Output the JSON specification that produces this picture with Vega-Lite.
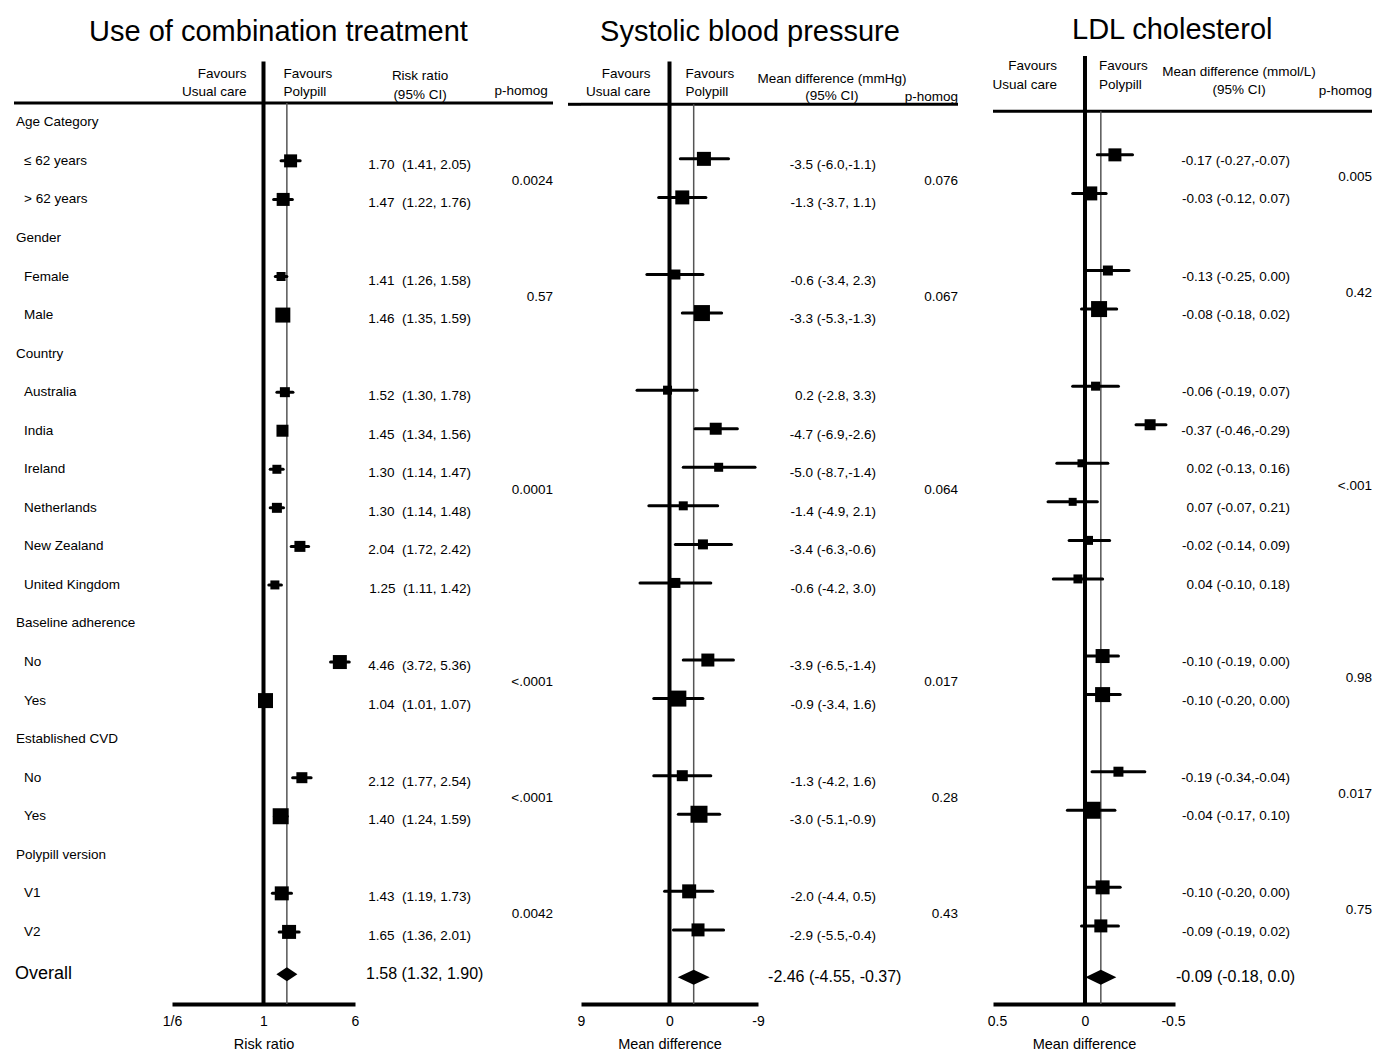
{
"$schema": "https://vega.github.io/schema/vega-lite/v6.json",
"background": "white",
"padding": {"left": 12, "top": 16, "right": 0, "bottom": 0},
"spacing": 11,
"config": {
  "view": {"stroke": null},
  "font": "Liberation Sans, Arial, sans-serif",
  "text": {"font": "Liberation Sans, Arial, sans-serif", "fontSize": 13.5, "color": "black"},
  "axis": {"grid": false, "ticks": false, "tickSize": 0, "domainWidth": 4, "domainColor": "black", "labelFlush": false, "labelPadding": 10, "labelFontSize": 14, "titleFontSize": 14.5, "titleFontWeight": "normal", "titlePadding": 9, "labelColor": "black", "titleColor": "black", "labelFont": "Liberation Sans, Arial, sans-serif", "titleFont": "Liberation Sans, Arial, sans-serif"},
  "title": {"font": "Liberation Sans, Arial, sans-serif", "fontSize": 29, "fontWeight": "normal", "color": "black", "anchor": "middle"}
},
"datasets": {
  "labels": [
    {"row": 1, "label": "Age Category", "level": 0},
    {"row": 2, "label": "≤ 62 years", "level": 1},
    {"row": 3, "label": "> 62 years", "level": 1},
    {"row": 4, "label": "Gender", "level": 0},
    {"row": 5, "label": "Female", "level": 1},
    {"row": 6, "label": "Male", "level": 1},
    {"row": 7, "label": "Country", "level": 0},
    {"row": 8, "label": "Australia", "level": 1},
    {"row": 9, "label": "India", "level": 1},
    {"row": 10, "label": "Ireland", "level": 1},
    {"row": 11, "label": "Netherlands", "level": 1},
    {"row": 12, "label": "New Zealand", "level": 1},
    {"row": 13, "label": "United Kingdom", "level": 1},
    {"row": 14, "label": "Baseline adherence", "level": 0},
    {"row": 15, "label": "No", "level": 1},
    {"row": 16, "label": "Yes", "level": 1},
    {"row": 17, "label": "Established CVD", "level": 0},
    {"row": 18, "label": "No", "level": 1},
    {"row": 19, "label": "Yes", "level": 1},
    {"row": 20, "label": "Polypill version", "level": 0},
    {"row": 21, "label": "V1", "level": 1},
    {"row": 22, "label": "V2", "level": 1},
    {"row": 23.1, "label": "Overall", "level": 0, "overall": true}
  ],
  "est": [
    {"o": "rr", "row": 2, "grp": "age", "p": "0.0024", "est": 1.70, "lo": 1.41, "hi": 2.05, "wt": 169, "txt": "1.70\u00a0 (1.41, 2.05)"},
    {"o": "rr", "row": 3, "grp": "age", "p": "0.0024", "est": 1.47, "lo": 1.22, "hi": 1.76, "wt": 169, "txt": "1.47\u00a0 (1.22, 1.76)"},
    {"o": "rr", "row": 5, "grp": "gender", "p": "0.57", "est": 1.41, "lo": 1.26, "hi": 1.58, "wt": 81, "txt": "1.41\u00a0 (1.26, 1.58)"},
    {"o": "rr", "row": 6, "grp": "gender", "p": "0.57", "est": 1.46, "lo": 1.35, "hi": 1.59, "wt": 225, "txt": "1.46\u00a0 (1.35, 1.59)"},
    {"o": "rr", "row": 8, "grp": "country", "p": "0.0001", "est": 1.52, "lo": 1.30, "hi": 1.78, "wt": 100, "txt": "1.52\u00a0 (1.30, 1.78)"},
    {"o": "rr", "row": 9, "grp": "country", "p": "0.0001", "est": 1.45, "lo": 1.34, "hi": 1.56, "wt": 144, "txt": "1.45\u00a0 (1.34, 1.56)"},
    {"o": "rr", "row": 10, "grp": "country", "p": "0.0001", "est": 1.30, "lo": 1.14, "hi": 1.47, "wt": 81, "txt": "1.30\u00a0 (1.14, 1.47)"},
    {"o": "rr", "row": 11, "grp": "country", "p": "0.0001", "est": 1.30, "lo": 1.14, "hi": 1.48, "wt": 100, "txt": "1.30\u00a0 (1.14, 1.48)"},
    {"o": "rr", "row": 12, "grp": "country", "p": "0.0001", "est": 2.04, "lo": 1.72, "hi": 2.42, "wt": 121, "txt": "2.04\u00a0 (1.72, 2.42)"},
    {"o": "rr", "row": 13, "grp": "country", "p": "0.0001", "est": 1.25, "lo": 1.11, "hi": 1.42, "wt": 81, "txt": "1.25\u00a0 (1.11, 1.42)"},
    {"o": "rr", "row": 15, "grp": "adh", "p": "<.0001", "est": 4.46, "lo": 3.72, "hi": 5.36, "wt": 196, "txt": "4.46\u00a0 (3.72, 5.36)"},
    {"o": "rr", "row": 16, "grp": "adh", "p": "<.0001", "est": 1.04, "lo": 1.01, "hi": 1.07, "wt": 225, "txt": "1.04\u00a0 (1.01, 1.07)"},
    {"o": "rr", "row": 18, "grp": "cvd", "p": "<.0001", "est": 2.12, "lo": 1.77, "hi": 2.54, "wt": 121, "txt": "2.12\u00a0 (1.77, 2.54)"},
    {"o": "rr", "row": 19, "grp": "cvd", "p": "<.0001", "est": 1.40, "lo": 1.24, "hi": 1.59, "wt": 256, "txt": "1.40\u00a0 (1.24, 1.59)"},
    {"o": "rr", "row": 21, "grp": "ver", "p": "0.0042", "est": 1.43, "lo": 1.19, "hi": 1.73, "wt": 196, "txt": "1.43\u00a0 (1.19, 1.73)"},
    {"o": "rr", "row": 22, "grp": "ver", "p": "0.0042", "est": 1.65, "lo": 1.36, "hi": 2.01, "wt": 196, "txt": "1.65\u00a0 (1.36, 2.01)"},
    {"o": "rr", "row": 23.1, "grp": "overall", "est": 1.58, "lo": 1.32, "hi": 1.90, "txt": "1.58 (1.32, 1.90)", "overall": true},

    {"o": "sbp", "row": 2, "grp": "age", "p": "0.076", "est": -3.5, "lo": -6.0, "hi": -1.1, "wt": 196, "txt": "-3.5 (-6.0,-1.1)"},
    {"o": "sbp", "row": 3, "grp": "age", "p": "0.076", "est": -1.3, "lo": -3.7, "hi": 1.1, "wt": 196, "txt": "-1.3 (-3.7, 1.1)"},
    {"o": "sbp", "row": 5, "grp": "gender", "p": "0.067", "est": -0.6, "lo": -3.4, "hi": 2.3, "wt": 100, "txt": "-0.6 (-3.4, 2.3)"},
    {"o": "sbp", "row": 6, "grp": "gender", "p": "0.067", "est": -3.3, "lo": -5.3, "hi": -1.3, "wt": 256, "txt": "-3.3 (-5.3,-1.3)"},
    {"o": "sbp", "row": 8, "grp": "country", "p": "0.064", "est": 0.2, "lo": -2.8, "hi": 3.3, "wt": 81, "txt": "0.2 (-2.8, 3.3)"},
    {"o": "sbp", "row": 9, "grp": "country", "p": "0.064", "est": -4.7, "lo": -6.9, "hi": -2.6, "wt": 144, "txt": "-4.7 (-6.9,-2.6)"},
    {"o": "sbp", "row": 10, "grp": "country", "p": "0.064", "est": -5.0, "lo": -8.7, "hi": -1.4, "wt": 81, "txt": "-5.0 (-8.7,-1.4)"},
    {"o": "sbp", "row": 11, "grp": "country", "p": "0.064", "est": -1.4, "lo": -4.9, "hi": 2.1, "wt": 81, "txt": "-1.4 (-4.9, 2.1)"},
    {"o": "sbp", "row": 12, "grp": "country", "p": "0.064", "est": -3.4, "lo": -6.3, "hi": -0.6, "wt": 100, "txt": "-3.4 (-6.3,-0.6)"},
    {"o": "sbp", "row": 13, "grp": "country", "p": "0.064", "est": -0.6, "lo": -4.2, "hi": 3.0, "wt": 100, "txt": "-0.6 (-4.2, 3.0)"},
    {"o": "sbp", "row": 15, "grp": "adh", "p": "0.017", "est": -3.9, "lo": -6.5, "hi": -1.4, "wt": 169, "txt": "-3.9 (-6.5,-1.4)"},
    {"o": "sbp", "row": 16, "grp": "adh", "p": "0.017", "est": -0.9, "lo": -3.4, "hi": 1.6, "wt": 256, "txt": "-0.9 (-3.4, 1.6)"},
    {"o": "sbp", "row": 18, "grp": "cvd", "p": "0.28", "est": -1.3, "lo": -4.2, "hi": 1.6, "wt": 121, "txt": "-1.3 (-4.2, 1.6)"},
    {"o": "sbp", "row": 19, "grp": "cvd", "p": "0.28", "est": -3.0, "lo": -5.1, "hi": -0.9, "wt": 289, "txt": "-3.0 (-5.1,-0.9)"},
    {"o": "sbp", "row": 21, "grp": "ver", "p": "0.43", "est": -2.0, "lo": -4.4, "hi": 0.5, "wt": 196, "txt": "-2.0 (-4.4, 0.5)"},
    {"o": "sbp", "row": 22, "grp": "ver", "p": "0.43", "est": -2.9, "lo": -5.5, "hi": -0.4, "wt": 169, "txt": "-2.9 (-5.5,-0.4)"},
    {"o": "sbp", "row": 23.1, "grp": "overall", "est": -2.46, "lo": -4.55, "hi": -0.37, "txt": "-2.46 (-4.55, -0.37)", "overall": true},

    {"o": "ldl", "row": 2, "grp": "age", "p": "0.005", "est": -0.17, "lo": -0.27, "hi": -0.07, "wt": 169, "txt": "-0.17 (-0.27,-0.07)"},
    {"o": "ldl", "row": 3, "grp": "age", "p": "0.005", "est": -0.03, "lo": -0.12, "hi": 0.07, "wt": 196, "txt": "-0.03 (-0.12, 0.07)"},
    {"o": "ldl", "row": 5, "grp": "gender", "p": "0.42", "est": -0.13, "lo": -0.25, "hi": 0.00, "wt": 100, "txt": "-0.13 (-0.25, 0.00)"},
    {"o": "ldl", "row": 6, "grp": "gender", "p": "0.42", "est": -0.08, "lo": -0.18, "hi": 0.02, "wt": 256, "txt": "-0.08 (-0.18, 0.02)"},
    {"o": "ldl", "row": 8, "grp": "country", "p": "<.001", "est": -0.06, "lo": -0.19, "hi": 0.07, "wt": 81, "txt": "-0.06 (-0.19, 0.07)"},
    {"o": "ldl", "row": 9, "grp": "country", "p": "<.001", "est": -0.37, "lo": -0.46, "hi": -0.29, "wt": 121, "txt": "-0.37 (-0.46,-0.29)"},
    {"o": "ldl", "row": 10, "grp": "country", "p": "<.001", "est": 0.02, "lo": -0.13, "hi": 0.16, "wt": 64, "txt": "0.02 (-0.13, 0.16)"},
    {"o": "ldl", "row": 11, "grp": "country", "p": "<.001", "est": 0.07, "lo": -0.07, "hi": 0.21, "wt": 64, "txt": "0.07 (-0.07, 0.21)"},
    {"o": "ldl", "row": 12, "grp": "country", "p": "<.001", "est": -0.02, "lo": -0.14, "hi": 0.09, "wt": 81, "txt": "-0.02 (-0.14, 0.09)"},
    {"o": "ldl", "row": 13, "grp": "country", "p": "<.001", "est": 0.04, "lo": -0.10, "hi": 0.18, "wt": 81, "txt": "0.04 (-0.10, 0.18)"},
    {"o": "ldl", "row": 15, "grp": "adh", "p": "0.98", "est": -0.10, "lo": -0.19, "hi": 0.00, "wt": 196, "txt": "-0.10 (-0.19, 0.00)"},
    {"o": "ldl", "row": 16, "grp": "adh", "p": "0.98", "est": -0.10, "lo": -0.20, "hi": 0.00, "wt": 225, "txt": "-0.10 (-0.20, 0.00)"},
    {"o": "ldl", "row": 18, "grp": "cvd", "p": "0.017", "est": -0.19, "lo": -0.34, "hi": -0.04, "wt": 100, "txt": "-0.19 (-0.34,-0.04)"},
    {"o": "ldl", "row": 19, "grp": "cvd", "p": "0.017", "est": -0.04, "lo": -0.17, "hi": 0.10, "wt": 289, "txt": "-0.04 (-0.17, 0.10)"},
    {"o": "ldl", "row": 21, "grp": "ver", "p": "0.75", "est": -0.10, "lo": -0.20, "hi": 0.00, "wt": 196, "txt": "-0.10 (-0.20, 0.00)"},
    {"o": "ldl", "row": 22, "grp": "ver", "p": "0.75", "est": -0.09, "lo": -0.19, "hi": 0.02, "wt": 169, "txt": "-0.09 (-0.19, 0.02)"},
    {"o": "ldl", "row": 23.1, "grp": "overall", "est": -0.09, "lo": -0.18, "hi": 0.0, "txt": "-0.09 (-0.18, 0.0)", "overall": true}
  ]
},
"hconcat": [
  {
    "title": {"text": "Use of combination treatment", "dx": -5, "offset": 9},
    "spacing": 0,
    "bounds": "flush",
    "hconcat": [
      {
        "width": 158, "height": 948,
        "data": {"name": "labels"},
        "layer": [
          {"data": {"values": [{}]}, "mark": {"type": "rule", "strokeWidth": 3, "color": "black"},
           "encoding": {"y": {"datum": 0.5, "type": "quantitative", "scale": {"domain": [-0.72, 23.87], "reverse": true, "nice": false, "zero": false}, "axis": null}}},
          {"transform": [{"filter": "!datum.overall"}],
           "mark": {"type": "text", "align": "left", "baseline": "middle"},
           "encoding": {
             "x": {"field": "level", "type": "ordinal", "scale": {"type": "point", "range": [2, 10], "padding": 0}, "axis": null},
             "y": {"field": "row", "type": "quantitative", "scale": {"domain": [-0.72, 23.87], "reverse": true, "nice": false, "zero": false}, "axis": null},
             "text": {"field": "label"}}},
          {"transform": [{"filter": "datum.overall"}],
           "mark": {"type": "text", "align": "left", "baseline": "middle", "fontSize": 18, "dx": -1},
           "encoding": {
             "x": {"field": "level", "type": "ordinal", "scale": {"type": "point", "range": [2, 10], "padding": 0}, "axis": null},
             "y": {"field": "row", "type": "quantitative", "scale": {"domain": [-0.72, 23.87], "reverse": true, "nice": false, "zero": false}, "axis": null},
             "text": {"field": "label"}}}
        ]
      },
      {
        "width": 183, "height": 948,
        "data": {"name": "est"},
        "layer": [
          {"data": {"values": [{}]}, "mark": {"type": "rule", "strokeWidth": 3, "color": "black"},
           "encoding": {"y": {"datum": 0.5, "type": "quantitative", "scale": {"domain": [-0.72, 23.87], "reverse": true, "nice": false, "zero": false}, "axis": null}}},
          {"data": {"values": [{}]}, "mark": {"type": "rule", "strokeWidth": 4, "color": "black"},
           "encoding": {
             "x": {"datum": 1, "type": "quantitative", "scale": {"type": "log", "domain": [0.16666666666666666, 6], "nice": false},
                   "axis": {"values": [0.16666666666666666, 1, 6], "labelExpr": "datum.value < 0.5 ? '1/6' : (datum.value < 2 ? '1' : '6')", "title": "Risk ratio"}},
             "y": {"datum": -0.58, "type": "quantitative", "scale": {"domain": [-0.72, 23.87], "reverse": true, "nice": false, "zero": false}, "axis": null},
             "y2": {"datum": 23.87}}},
          {"transform": [{"filter": "datum.o == 'rr' && datum.overall"}],
           "mark": {"type": "rule", "strokeWidth": 1.5, "color": "#555555"},
           "encoding": {
             "x": {"field": "est", "type": "quantitative", "scale": {"type": "log", "domain": [0.16666666666666666, 6], "nice": false}},
             "y": {"datum": 0.5, "type": "quantitative", "scale": {"domain": [-0.72, 23.87], "reverse": true, "nice": false, "zero": false}, "axis": null},
             "y2": {"datum": 23.87}}},
          {"transform": [{"filter": "datum.o == 'rr' && !datum.overall"}],
           "mark": {"type": "rule", "strokeWidth": 3, "strokeCap": "round", "color": "black"},
           "encoding": {
             "x": {"field": "lo", "type": "quantitative", "scale": {"type": "log", "domain": [0.16666666666666666, 6], "nice": false}},
             "x2": {"field": "hi"},
             "y": {"field": "row", "type": "quantitative", "scale": {"domain": [-0.72, 23.87], "reverse": true, "nice": false, "zero": false}, "axis": null}}},
          {"transform": [{"filter": "datum.o == 'rr' && !datum.overall"}],
           "mark": {"type": "point", "shape": "square", "filled": true, "color": "black", "opacity": 1, "strokeWidth": 0},
           "encoding": {
             "x": {"field": "est", "type": "quantitative", "scale": {"type": "log", "domain": [0.16666666666666666, 6], "nice": false}},
             "y": {"field": "row", "type": "quantitative", "scale": {"domain": [-0.72, 23.87], "reverse": true, "nice": false, "zero": false}, "axis": null},
             "size": {"field": "wt", "type": "quantitative", "scale": {"domain": [0, 300], "range": [0, 300]}, "legend": null}}},
          {"transform": [{"filter": "datum.o == 'rr' && datum.overall"}],
           "mark": {"type": "point", "shape": "M-1,0L0,-0.667L1,0L0,0.667Z", "size": 441, "filled": true, "color": "black", "opacity": 1, "strokeWidth": 0},
           "encoding": {
             "x": {"field": "est", "type": "quantitative", "scale": {"type": "log", "domain": [0.16666666666666666, 6], "nice": false}},
             "y": {"field": "row", "type": "quantitative", "scale": {"domain": [-0.72, 23.87], "reverse": true, "nice": false, "zero": false}, "axis": null}}},
          {"data": {"values": [{}]},
           "mark": {"type": "text", "align": "right", "baseline": "middle", "lineBreak": "\n", "lineHeight": 18, "dx": -17},
           "encoding": {
             "x": {"datum": 1, "type": "quantitative", "scale": {"type": "log", "domain": [0.16666666666666666, 6], "nice": false}},
             "y": {"datum": -0.253, "type": "quantitative", "scale": {"domain": [-0.72, 23.87], "reverse": true, "nice": false, "zero": false}, "axis": null},
             "text": {"value": "Favours\nUsual care"}}},
          {"data": {"values": [{}]},
           "mark": {"type": "text", "align": "left", "baseline": "middle", "lineBreak": "\n", "lineHeight": 18, "dx": 20},
           "encoding": {
             "x": {"datum": 1, "type": "quantitative", "scale": {"type": "log", "domain": [0.16666666666666666, 6], "nice": false}},
             "y": {"datum": -0.253, "type": "quantitative", "scale": {"domain": [-0.72, 23.87], "reverse": true, "nice": false, "zero": false}, "axis": null},
             "text": {"value": "Favours\nPolypill"}}}
        ]
      },
      {
        "width": 125, "height": 948,
        "data": {"name": "est"},
        "layer": [
          {"data": {"values": [{}]}, "mark": {"type": "rule", "strokeWidth": 3, "color": "black"},
           "encoding": {"y": {"datum": 0.5, "type": "quantitative", "scale": {"domain": [-0.72, 23.87], "reverse": true, "nice": false, "zero": false}, "axis": null}}},
          {"data": {"values": [{}]},
           "mark": {"type": "text", "align": "center", "baseline": "middle", "lineBreak": "\n", "lineHeight": 19},
           "encoding": {
             "x": {"datum": 0.52, "type": "quantitative", "scale": {"domain": [0, 1]}, "axis": null},
             "y": {"datum": -0.201, "type": "quantitative", "scale": {"domain": [-0.72, 23.87], "reverse": true, "nice": false, "zero": false}, "axis": null},
             "text": {"value": "Risk ratio\n(95% CI)"}}},
          {"transform": [{"filter": "datum.o == 'rr' && !datum.overall"}],
           "mark": {"type": "text", "align": "right", "baseline": "middle", "dy": 4},
           "encoding": {
             "x": {"datum": 0.928, "type": "quantitative", "scale": {"domain": [0, 1]}, "axis": null},
             "y": {"field": "row", "type": "quantitative", "scale": {"domain": [-0.72, 23.87], "reverse": true, "nice": false, "zero": false}, "axis": null},
             "text": {"field": "txt"}}},
          {"transform": [{"filter": "datum.o == 'rr' && datum.overall"}],
           "mark": {"type": "text", "align": "left", "baseline": "middle", "fontSize": 16},
           "encoding": {
             "x": {"datum": 0.088, "type": "quantitative", "scale": {"domain": [0, 1]}, "axis": null},
             "y": {"field": "row", "type": "quantitative", "scale": {"domain": [-0.72, 23.87], "reverse": true, "nice": false, "zero": false}, "axis": null},
             "text": {"field": "txt"}}}
        ]
      },
      {
        "width": 73, "height": 948,
        "data": {"name": "est"},
        "layer": [
          {"data": {"values": [{}]}, "mark": {"type": "rule", "strokeWidth": 3, "color": "black"},
           "encoding": {"y": {"datum": 0.5, "type": "quantitative", "scale": {"domain": [-0.72, 23.87], "reverse": true, "nice": false, "zero": false}, "axis": null}}},
          {"data": {"values": [{}]},
           "mark": {"type": "text", "align": "right", "baseline": "middle"},
           "encoding": {
             "x": {"datum": 0.93, "type": "quantitative", "scale": {"domain": [0, 1]}, "axis": null},
             "y": {"datum": 0.188, "type": "quantitative", "scale": {"domain": [-0.72, 23.87], "reverse": true, "nice": false, "zero": false}, "axis": null},
             "text": {"value": "p-homog"}}},
          {"transform": [{"filter": "datum.o == 'rr' && datum.p"}, {"aggregate": [{"op": "mean", "field": "row", "as": "row"}], "groupby": ["grp", "p"]}],
           "mark": {"type": "text", "align": "right", "baseline": "middle", "dy": 1},
           "encoding": {
             "x": {"datum": 1, "type": "quantitative", "scale": {"domain": [0, 1]}, "axis": null},
             "y": {"field": "row", "type": "quantitative", "scale": {"domain": [-0.72, 23.87], "reverse": true, "nice": false, "zero": false}, "axis": null},
             "text": {"field": "p"}}}
        ]
      }
    ]
  },
  {
    "title": {"text": "Systolic blood pressure", "dx": -13, "offset": 9},
    "spacing": 0,
    "bounds": "flush",
    "hconcat": [
      {
        "width": 13, "height": 948,
        "data": {"values": [{}]},
        "mark": {"type": "rule", "strokeWidth": 3, "color": "black"},
        "encoding": {"y": {"datum": 0.533, "type": "quantitative", "scale": {"domain": [-0.72, 23.87], "reverse": true, "nice": false, "zero": false}, "axis": null}}
      },
      {
        "width": 177, "height": 948,
        "data": {"name": "est"},
        "layer": [
          {"data": {"values": [{}]}, "mark": {"type": "rule", "strokeWidth": 3, "color": "black"},
           "encoding": {"y": {"datum": 0.533, "type": "quantitative", "scale": {"domain": [-0.72, 23.87], "reverse": true, "nice": false, "zero": false}, "axis": null}}},
          {"data": {"values": [{}]}, "mark": {"type": "rule", "strokeWidth": 4, "color": "black"},
           "encoding": {
             "x": {"datum": 0, "type": "quantitative", "scale": {"domain": [9, -9], "nice": false, "zero": false},
                   "axis": {"values": [9, 0, -9], "labelExpr": "datum.value == 0 ? '0' : '' + datum.value", "title": "Mean difference"}},
             "y": {"datum": -0.58, "type": "quantitative", "scale": {"domain": [-0.72, 23.87], "reverse": true, "nice": false, "zero": false}, "axis": null},
             "y2": {"datum": 23.87}}},
          {"transform": [{"filter": "datum.o == 'sbp' && datum.overall"}],
           "mark": {"type": "rule", "strokeWidth": 1.5, "color": "#555555"},
           "encoding": {
             "x": {"field": "est", "type": "quantitative", "scale": {"domain": [9, -9], "nice": false, "zero": false}},
             "y": {"datum": 0.533, "type": "quantitative", "scale": {"domain": [-0.72, 23.87], "reverse": true, "nice": false, "zero": false}, "axis": null},
             "y2": {"datum": 23.87}}},
          {"transform": [{"filter": "datum.o == 'sbp' && !datum.overall"}],
           "mark": {"type": "rule", "strokeWidth": 3, "strokeCap": "round", "color": "black", "yOffset": -2},
           "encoding": {
             "x": {"field": "lo", "type": "quantitative", "scale": {"domain": [9, -9], "nice": false, "zero": false}},
             "x2": {"field": "hi"},
             "y": {"field": "row", "type": "quantitative", "scale": {"domain": [-0.72, 23.87], "reverse": true, "nice": false, "zero": false}, "axis": null}}},
          {"transform": [{"filter": "datum.o == 'sbp' && !datum.overall"}],
           "mark": {"type": "point", "shape": "square", "filled": true, "color": "black", "opacity": 1, "strokeWidth": 0, "yOffset": -2},
           "encoding": {
             "x": {"field": "est", "type": "quantitative", "scale": {"domain": [9, -9], "nice": false, "zero": false}},
             "y": {"field": "row", "type": "quantitative", "scale": {"domain": [-0.72, 23.87], "reverse": true, "nice": false, "zero": false}, "axis": null},
             "size": {"field": "wt", "type": "quantitative", "scale": {"domain": [0, 300], "range": [0, 300]}, "legend": null}}},
          {"transform": [{"filter": "datum.o == 'sbp' && datum.overall"}],
           "mark": {"type": "point", "shape": "M-1,0L0,-0.47L1,0L0,0.47Z", "size": 1024, "filled": true, "color": "black", "opacity": 1, "strokeWidth": 0, "yOffset": 3},
           "encoding": {
             "x": {"field": "est", "type": "quantitative", "scale": {"domain": [9, -9], "nice": false, "zero": false}},
             "y": {"field": "row", "type": "quantitative", "scale": {"domain": [-0.72, 23.87], "reverse": true, "nice": false, "zero": false}, "axis": null}}},
          {"data": {"values": [{}]},
           "mark": {"type": "text", "align": "right", "baseline": "middle", "lineBreak": "\n", "lineHeight": 18, "dx": -19},
           "encoding": {
             "x": {"datum": 0, "type": "quantitative", "scale": {"domain": [9, -9], "nice": false, "zero": false}},
             "y": {"datum": -0.253, "type": "quantitative", "scale": {"domain": [-0.72, 23.87], "reverse": true, "nice": false, "zero": false}, "axis": null},
             "text": {"value": "Favours\nUsual care"}}},
          {"data": {"values": [{}]},
           "mark": {"type": "text", "align": "left", "baseline": "middle", "lineBreak": "\n", "lineHeight": 18, "dx": 16},
           "encoding": {
             "x": {"datum": 0, "type": "quantitative", "scale": {"domain": [9, -9], "nice": false, "zero": false}},
             "y": {"datum": -0.253, "type": "quantitative", "scale": {"domain": [-0.72, 23.87], "reverse": true, "nice": false, "zero": false}, "axis": null},
             "text": {"value": "Favours\nPolypill"}}}
        ]
      },
      {
        "width": 150, "height": 948,
        "data": {"name": "est"},
        "layer": [
          {"data": {"values": [{}]}, "mark": {"type": "rule", "strokeWidth": 3, "color": "black"},
           "encoding": {"y": {"datum": 0.533, "type": "quantitative", "scale": {"domain": [-0.72, 23.87], "reverse": true, "nice": false, "zero": false}, "axis": null}}},
          {"data": {"values": [{}]},
           "mark": {"type": "text", "align": "center", "baseline": "middle", "lineBreak": "\n", "lineHeight": 17},
           "encoding": {
             "x": {"datum": 0.493, "type": "quantitative", "scale": {"domain": [0, 1]}, "axis": null},
             "y": {"datum": -0.123, "type": "quantitative", "scale": {"domain": [-0.72, 23.87], "reverse": true, "nice": false, "zero": false}, "axis": null},
             "text": {"value": "Mean difference (mmHg)\n(95% CI)"}}},
          {"transform": [{"filter": "datum.o == 'sbp' && !datum.overall"}],
           "mark": {"type": "text", "align": "right", "baseline": "middle", "dy": 4},
           "encoding": {
             "x": {"datum": 0.787, "type": "quantitative", "scale": {"domain": [0, 1]}, "axis": null},
             "y": {"field": "row", "type": "quantitative", "scale": {"domain": [-0.72, 23.87], "reverse": true, "nice": false, "zero": false}, "axis": null},
             "text": {"field": "txt"}}},
          {"transform": [{"filter": "datum.o == 'sbp' && datum.overall"}],
           "mark": {"type": "text", "align": "left", "baseline": "middle", "fontSize": 16, "dy": 3},
           "encoding": {
             "x": {"datum": 0.067, "type": "quantitative", "scale": {"domain": [0, 1]}, "axis": null},
             "y": {"field": "row", "type": "quantitative", "scale": {"domain": [-0.72, 23.87], "reverse": true, "nice": false, "zero": false}, "axis": null},
             "text": {"field": "txt"}}}
        ]
      },
      {
        "width": 50, "height": 948,
        "data": {"name": "est"},
        "layer": [
          {"data": {"values": [{}]}, "mark": {"type": "rule", "strokeWidth": 3, "color": "black"},
           "encoding": {"y": {"datum": 0.533, "type": "quantitative", "scale": {"domain": [-0.72, 23.87], "reverse": true, "nice": false, "zero": false}, "axis": null}}},
          {"data": {"values": [{}]},
           "mark": {"type": "text", "align": "right", "baseline": "middle"},
           "encoding": {
             "x": {"datum": 1, "type": "quantitative", "scale": {"domain": [0, 1]}, "axis": null},
             "y": {"datum": 0.344, "type": "quantitative", "scale": {"domain": [-0.72, 23.87], "reverse": true, "nice": false, "zero": false}, "axis": null},
             "text": {"value": "p-homog"}}},
          {"transform": [{"filter": "datum.o == 'sbp' && datum.p"}, {"aggregate": [{"op": "mean", "field": "row", "as": "row"}], "groupby": ["grp", "p"]}],
           "mark": {"type": "text", "align": "right", "baseline": "middle", "dy": 1},
           "encoding": {
             "x": {"datum": 1, "type": "quantitative", "scale": {"domain": [0, 1]}, "axis": null},
             "y": {"field": "row", "type": "quantitative", "scale": {"domain": [-0.72, 23.87], "reverse": true, "nice": false, "zero": false}, "axis": null},
             "text": {"field": "p"}}}
        ]
      }
    ]
  },
  {
    "title": {"text": "LDL cholesterol", "dx": 0, "offset": 9},
    "spacing": 0,
    "bounds": "flush",
    "hconcat": [
      {
        "width": 22, "height": 948,
        "data": {"values": [{}]},
        "mark": {"type": "text"},
        "encoding": {"text": {"value": ""}}
      },
      {
        "width": 182, "height": 948,
        "data": {"name": "est"},
        "layer": [
          {"data": {"values": [{}]}, "mark": {"type": "rule", "strokeWidth": 3, "color": "black"},
           "encoding": {"y": {"datum": 0.715, "type": "quantitative", "scale": {"domain": [-0.72, 23.87], "reverse": true, "nice": false, "zero": false}, "axis": null}}},
          {"data": {"values": [{}]}, "mark": {"type": "rule", "strokeWidth": 4, "color": "black"},
           "encoding": {
             "x": {"datum": 0, "type": "quantitative", "scale": {"domain": [0.5227, -0.5114], "nice": false, "zero": false},
                   "axis": {"values": [0.5, 0, -0.5], "labelExpr": "datum.value == 0 ? '0' : '' + datum.value", "title": "Mean difference"}},
             "y": {"datum": -0.72, "type": "quantitative", "scale": {"domain": [-0.72, 23.87], "reverse": true, "nice": false, "zero": false}, "axis": null},
             "y2": {"datum": 23.87}}},
          {"transform": [{"filter": "datum.o == 'ldl' && datum.overall"}],
           "mark": {"type": "rule", "strokeWidth": 1.5, "color": "#555555"},
           "encoding": {
             "x": {"field": "est", "type": "quantitative", "scale": {"domain": [0.5227, -0.5114], "nice": false, "zero": false}},
             "y": {"datum": 0.715, "type": "quantitative", "scale": {"domain": [-0.72, 23.87], "reverse": true, "nice": false, "zero": false}, "axis": null},
             "y2": {"datum": 23.87}}},
          {"transform": [{"filter": "datum.o == 'ldl' && !datum.overall"}],
           "mark": {"type": "rule", "strokeWidth": 3, "strokeCap": "round", "color": "black", "yOffset": -6},
           "encoding": {
             "x": {"field": "lo", "type": "quantitative", "scale": {"domain": [0.5227, -0.5114], "nice": false, "zero": false}},
             "x2": {"field": "hi"},
             "y": {"field": "row", "type": "quantitative", "scale": {"domain": [-0.72, 23.87], "reverse": true, "nice": false, "zero": false}, "axis": null}}},
          {"transform": [{"filter": "datum.o == 'ldl' && !datum.overall"}],
           "mark": {"type": "point", "shape": "square", "filled": true, "color": "black", "opacity": 1, "strokeWidth": 0, "yOffset": -6},
           "encoding": {
             "x": {"field": "est", "type": "quantitative", "scale": {"domain": [0.5227, -0.5114], "nice": false, "zero": false}},
             "y": {"field": "row", "type": "quantitative", "scale": {"domain": [-0.72, 23.87], "reverse": true, "nice": false, "zero": false}, "axis": null},
             "size": {"field": "wt", "type": "quantitative", "scale": {"domain": [0, 300], "range": [0, 300]}, "legend": null}}},
          {"transform": [{"filter": "datum.o == 'ldl' && datum.overall"}],
           "mark": {"type": "point", "shape": "M-1,0L0,-0.48L1,0L0,0.48Z", "size": 961, "filled": true, "color": "black", "opacity": 1, "strokeWidth": 0, "yOffset": 3},
           "encoding": {
             "x": {"field": "est", "type": "quantitative", "scale": {"domain": [0.5227, -0.5114], "nice": false, "zero": false}},
             "y": {"field": "row", "type": "quantitative", "scale": {"domain": [-0.72, 23.87], "reverse": true, "nice": false, "zero": false}, "axis": null}}},
          {"data": {"values": [{}]},
           "mark": {"type": "text", "align": "right", "baseline": "middle", "lineBreak": "\n", "lineHeight": 19, "dx": -28},
           "encoding": {
             "x": {"datum": 0, "type": "quantitative", "scale": {"domain": [0.5227, -0.5114], "nice": false, "zero": false}},
             "y": {"datum": -0.461, "type": "quantitative", "scale": {"domain": [-0.72, 23.87], "reverse": true, "nice": false, "zero": false}, "axis": null},
             "text": {"value": "Favours\nUsual care"}}},
          {"data": {"values": [{}]},
           "mark": {"type": "text", "align": "left", "baseline": "middle", "lineBreak": "\n", "lineHeight": 19, "dx": 14},
           "encoding": {
             "x": {"datum": 0, "type": "quantitative", "scale": {"domain": [0.5227, -0.5114], "nice": false, "zero": false}},
             "y": {"datum": -0.461, "type": "quantitative", "scale": {"domain": [-0.72, 23.87], "reverse": true, "nice": false, "zero": false}, "axis": null},
             "text": {"value": "Favours\nPolypill"}}}
        ]
      },
      {
        "width": 122, "height": 948,
        "data": {"name": "est"},
        "layer": [
          {"data": {"values": [{}]}, "mark": {"type": "rule", "strokeWidth": 3, "color": "black"},
           "encoding": {"y": {"datum": 0.715, "type": "quantitative", "scale": {"domain": [-0.72, 23.87], "reverse": true, "nice": false, "zero": false}, "axis": null}}},
          {"data": {"values": [{}]},
           "mark": {"type": "text", "align": "center", "baseline": "middle", "lineBreak": "\n", "lineHeight": 18},
           "encoding": {
             "x": {"datum": 0.525, "type": "quantitative", "scale": {"domain": [0, 1]}, "axis": null},
             "y": {"datum": -0.305, "type": "quantitative", "scale": {"domain": [-0.72, 23.87], "reverse": true, "nice": false, "zero": false}, "axis": null},
             "text": {"value": "Mean difference (mmol/L)\n(95% CI)"}}},
          {"transform": [{"filter": "datum.o == 'ldl' && !datum.overall"}],
           "mark": {"type": "text", "align": "right", "baseline": "middle"},
           "encoding": {
             "x": {"datum": 0.943, "type": "quantitative", "scale": {"domain": [0, 1]}, "axis": null},
             "y": {"field": "row", "type": "quantitative", "scale": {"domain": [-0.72, 23.87], "reverse": true, "nice": false, "zero": false}, "axis": null},
             "text": {"field": "txt"}}},
          {"transform": [{"filter": "datum.o == 'ldl' && datum.overall"}],
           "mark": {"type": "text", "align": "left", "baseline": "middle", "fontSize": 16, "dy": 3},
           "encoding": {
             "x": {"datum": 0.008, "type": "quantitative", "scale": {"domain": [0, 1]}, "axis": null},
             "y": {"field": "row", "type": "quantitative", "scale": {"domain": [-0.72, 23.87], "reverse": true, "nice": false, "zero": false}, "axis": null},
             "text": {"field": "txt"}}}
        ]
      },
      {
        "width": 75, "height": 948,
        "data": {"name": "est"},
        "layer": [
          {"data": {"values": [{}]}, "mark": {"type": "rule", "strokeWidth": 3, "color": "black"},
           "encoding": {"y": {"datum": 0.715, "type": "quantitative", "scale": {"domain": [-0.72, 23.87], "reverse": true, "nice": false, "zero": false}, "axis": null}}},
          {"data": {"values": [{}]},
           "mark": {"type": "text", "align": "right", "baseline": "middle"},
           "encoding": {
             "x": {"datum": 1, "type": "quantitative", "scale": {"domain": [0, 1]}, "axis": null},
             "y": {"datum": 0.188, "type": "quantitative", "scale": {"domain": [-0.72, 23.87], "reverse": true, "nice": false, "zero": false}, "axis": null},
             "text": {"value": "p-homog"}}},
          {"transform": [{"filter": "datum.o == 'ldl' && datum.p"}, {"aggregate": [{"op": "mean", "field": "row", "as": "row"}], "groupby": ["grp", "p"]}],
           "mark": {"type": "text", "align": "right", "baseline": "middle", "dy": -3},
           "encoding": {
             "x": {"datum": 1, "type": "quantitative", "scale": {"domain": [0, 1]}, "axis": null},
             "y": {"field": "row", "type": "quantitative", "scale": {"domain": [-0.72, 23.87], "reverse": true, "nice": false, "zero": false}, "axis": null},
             "text": {"field": "p"}}}
        ]
      }
    ]
  }
]
}
